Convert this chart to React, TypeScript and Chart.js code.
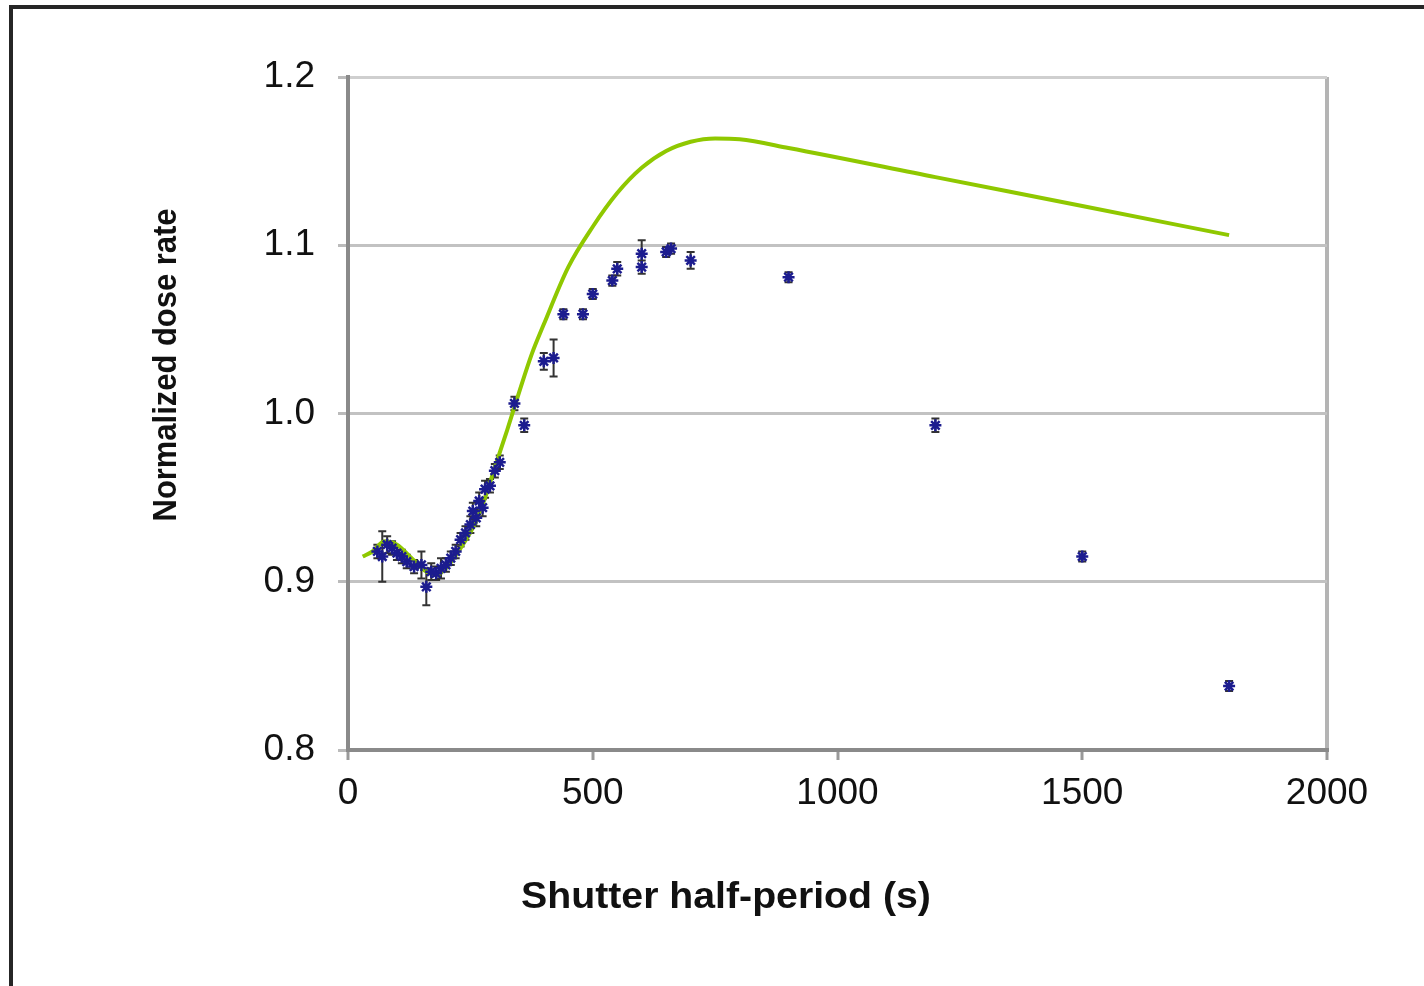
import React, { useEffect, useRef } from "react";
import { Chart, registerables } from "chart.js";

Chart.register(...registerables);

// Measured data: shutter half-period (s), normalized dose rate and its error
const shutterX = [60, 70, 80, 90, 100, 110, 120, 135, 150, 160, 170, 180, 190, 200, 210, 220, 230, 240, 250, 255, 262, 268, 275, 280, 290, 300, 310, 340, 360, 400, 420, 440, 480, 500, 540, 550, 600, 600, 650, 660, 700, 900, 1200, 1500, 1800];
const doseRate = [0.918, 0.915, 0.922, 0.920, 0.917, 0.915, 0.912, 0.909, 0.910, 0.897, 0.906, 0.905, 0.908, 0.910, 0.914, 0.918, 0.925, 0.929, 0.934, 0.942, 0.938, 0.948, 0.944, 0.955, 0.957, 0.966, 0.971, 1.006, 0.993, 1.031, 1.033, 1.059, 1.059, 1.071, 1.079, 1.086, 1.095, 1.087, 1.096, 1.098, 1.091, 1.081, 0.993, 0.915, 0.838];
const doseErr = [0.004, 0.015, 0.005, 0.004, 0.004, 0.004, 0.004, 0.004, 0.008, 0.011, 0.005, 0.004, 0.006, 0.004, 0.004, 0.004, 0.004, 0.004, 0.005, 0.005, 0.005, 0.005, 0.005, 0.005, 0.004, 0.004, 0.004, 0.004, 0.004, 0.005, 0.011, 0.003, 0.003, 0.003, 0.003, 0.004, 0.008, 0.004, 0.003, 0.003, 0.005, 0.003, 0.004, 0.003, 0.003];

// Model curve
const modelX = [30, 50, 75, 100, 130, 160, 180, 200, 230, 260, 280, 300, 325, 350, 375, 400, 450, 500, 550, 600, 650, 700, 750, 800, 900, 1200, 1500, 1800];
const modelY = [0.915, 0.918, 0.924, 0.922, 0.914, 0.906, 0.904, 0.908, 0.920, 0.935, 0.950, 0.968, 0.990, 1.013, 1.035, 1.053, 1.087, 1.111, 1.131, 1.146, 1.156, 1.1615, 1.1635, 1.163, 1.1578, 1.1405, 1.1233, 1.106];

const xTitle = "Shutter half-period (s)";
const yTitle = "Normalized dose rate";

const FONT = 'Arial, "Liberation Sans", sans-serif';

export default function App() {
  const ref = useRef<HTMLCanvasElement | null>(null);

  useEffect(() => {
    if (!ref.current) return;

    const errorBars = {
      id: "errorBars",
      beforeDatasetsDraw(chart: any) {
        const ctx = chart.ctx;
        const xs = chart.scales.x;
        const ys = chart.scales.y;
        ctx.save();
        ctx.strokeStyle = "#333333";
        ctx.lineWidth = 2;
        for (let i = 0; i < shutterX.length; i++) {
          const px = xs.getPixelForValue(shutterX[i]);
          const top = ys.getPixelForValue(doseRate[i] + doseErr[i]);
          const bot = ys.getPixelForValue(doseRate[i] - doseErr[i]);
          ctx.beginPath();
          ctx.moveTo(px, top);
          ctx.lineTo(px, bot);
          ctx.moveTo(px - 4, top);
          ctx.lineTo(px + 4, top);
          ctx.moveTo(px - 4, bot);
          ctx.lineTo(px + 4, bot);
          ctx.stroke();
        }
        ctx.restore();
      },
    };

    const axisTitles = {
      id: "axisTitles",
      afterDraw(chart: any) {
        const ctx = chart.ctx;
        const a = chart.chartArea;
        ctx.save();
        ctx.fillStyle = "#111111";
        ctx.font = `bold 36px ${FONT}`;
        ctx.textAlign = "center";
        ctx.textBaseline = "middle";
        ctx.save();
        ctx.translate(a.left + 378, a.bottom + 148);
        ctx.scale(1.09, 1);
        ctx.fillText(xTitle, 0, 0);
        ctx.restore();
        ctx.save();
        ctx.font = `bold 34px ${FONT}`;
        ctx.translate(a.left - 181, a.top + 288);
        ctx.rotate(-Math.PI / 2);
        ctx.scale(0.91, 1);
        ctx.fillText(yTitle, 0, 0);
        ctx.restore();
        ctx.restore();
      },
    };

    const chart = new Chart(ref.current, {
      type: "scatter",
      data: {
        datasets: [
          {
            label: "Measured",
            data: shutterX.map((x, i) => ({ x, y: doseRate[i] })),
            pointStyle: "star",
            pointRadius: 6,
            borderWidth: 2.5,
            borderColor: "#1c1c8f",
            backgroundColor: "#1c1c8f",
            order: 0,
          },
          {
            label: "Model",
            data: modelX.map((x, i) => ({ x, y: modelY[i] })),
            showLine: true,
            pointRadius: 0,
            borderColor: "#8fc800",
            borderWidth: 4,
            cubicInterpolationMode: "monotone",
            order: 1,
          } as any,
        ],
      },
      options: {
        animation: false,
        responsive: false,
        maintainAspectRatio: false,
        layout: { padding: { left: 0, right: 97, top: 77, bottom: 0 } },
        plugins: {
          legend: { display: false },
          tooltip: { enabled: false },
        },
        scales: {
          x: {
            type: "linear",
            min: 0,
            max: 2000,
            afterFit: (s: any) => {
              s.height = 236;
            },
            ticks: {
              stepSize: 500,
              padding: 12,
              color: "#111111",
              font: { family: FONT, size: 37 },
              callback: (v: any) => String(Math.round(Number(v))),
            },
            grid: {
              drawOnChartArea: true,
              drawTicks: true,
              tickLength: 10,
              tickWidth: 3,
              tickColor: "#999999",
              lineWidth: 4,
              color: (c: any) => (c.tick && c.tick.value === 2000 ? "#b4b4b4" : "rgba(0,0,0,0)"),
            },
            border: { display: true, color: "#8a8a8a", width: 4 },
          },
          y: {
            type: "linear",
            min: 0.8,
            max: 1.2,
            afterFit: (s: any) => {
              s.width = 348;
            },
            ticks: {
              stepSize: 0.1,
              padding: 23,
              color: "#111111",
              font: { family: FONT, size: 37 },
              callback: (v: any) => Number(v).toFixed(1),
            },
            grid: {
              drawTicks: true,
              tickLength: 10,
              tickWidth: 3,
              tickColor: "#bbbbbb",
              lineWidth: 3,
              color: (c: any) => (c.tick && Math.abs(c.tick.value - 1.2) < 1e-6 ? "#cfcfcf" : "#c2c2c2"),
            },
            border: { display: true, color: "#8a8a8a", width: 4 },
          },
        },
      },
      plugins: [errorBars, axisTitles],
    });

    return () => chart.destroy();
  }, []);

  return (
    <div
      style={{
        position: "fixed",
        left: 0,
        top: 0,
        width: 1424,
        height: 986,
        background: "#ffffff",
        overflow: "hidden",
      }}
    >
      <canvas ref={ref} width={1424} height={986} style={{ display: "block", width: 1424, height: 986 }} />
      <div
        style={{
          position: "absolute",
          left: 9,
          top: 5,
          width: 2000,
          height: 2000,
          border: "4px solid #262626",
          pointerEvents: "none",
        }}
      />
    </div>
  );
}
